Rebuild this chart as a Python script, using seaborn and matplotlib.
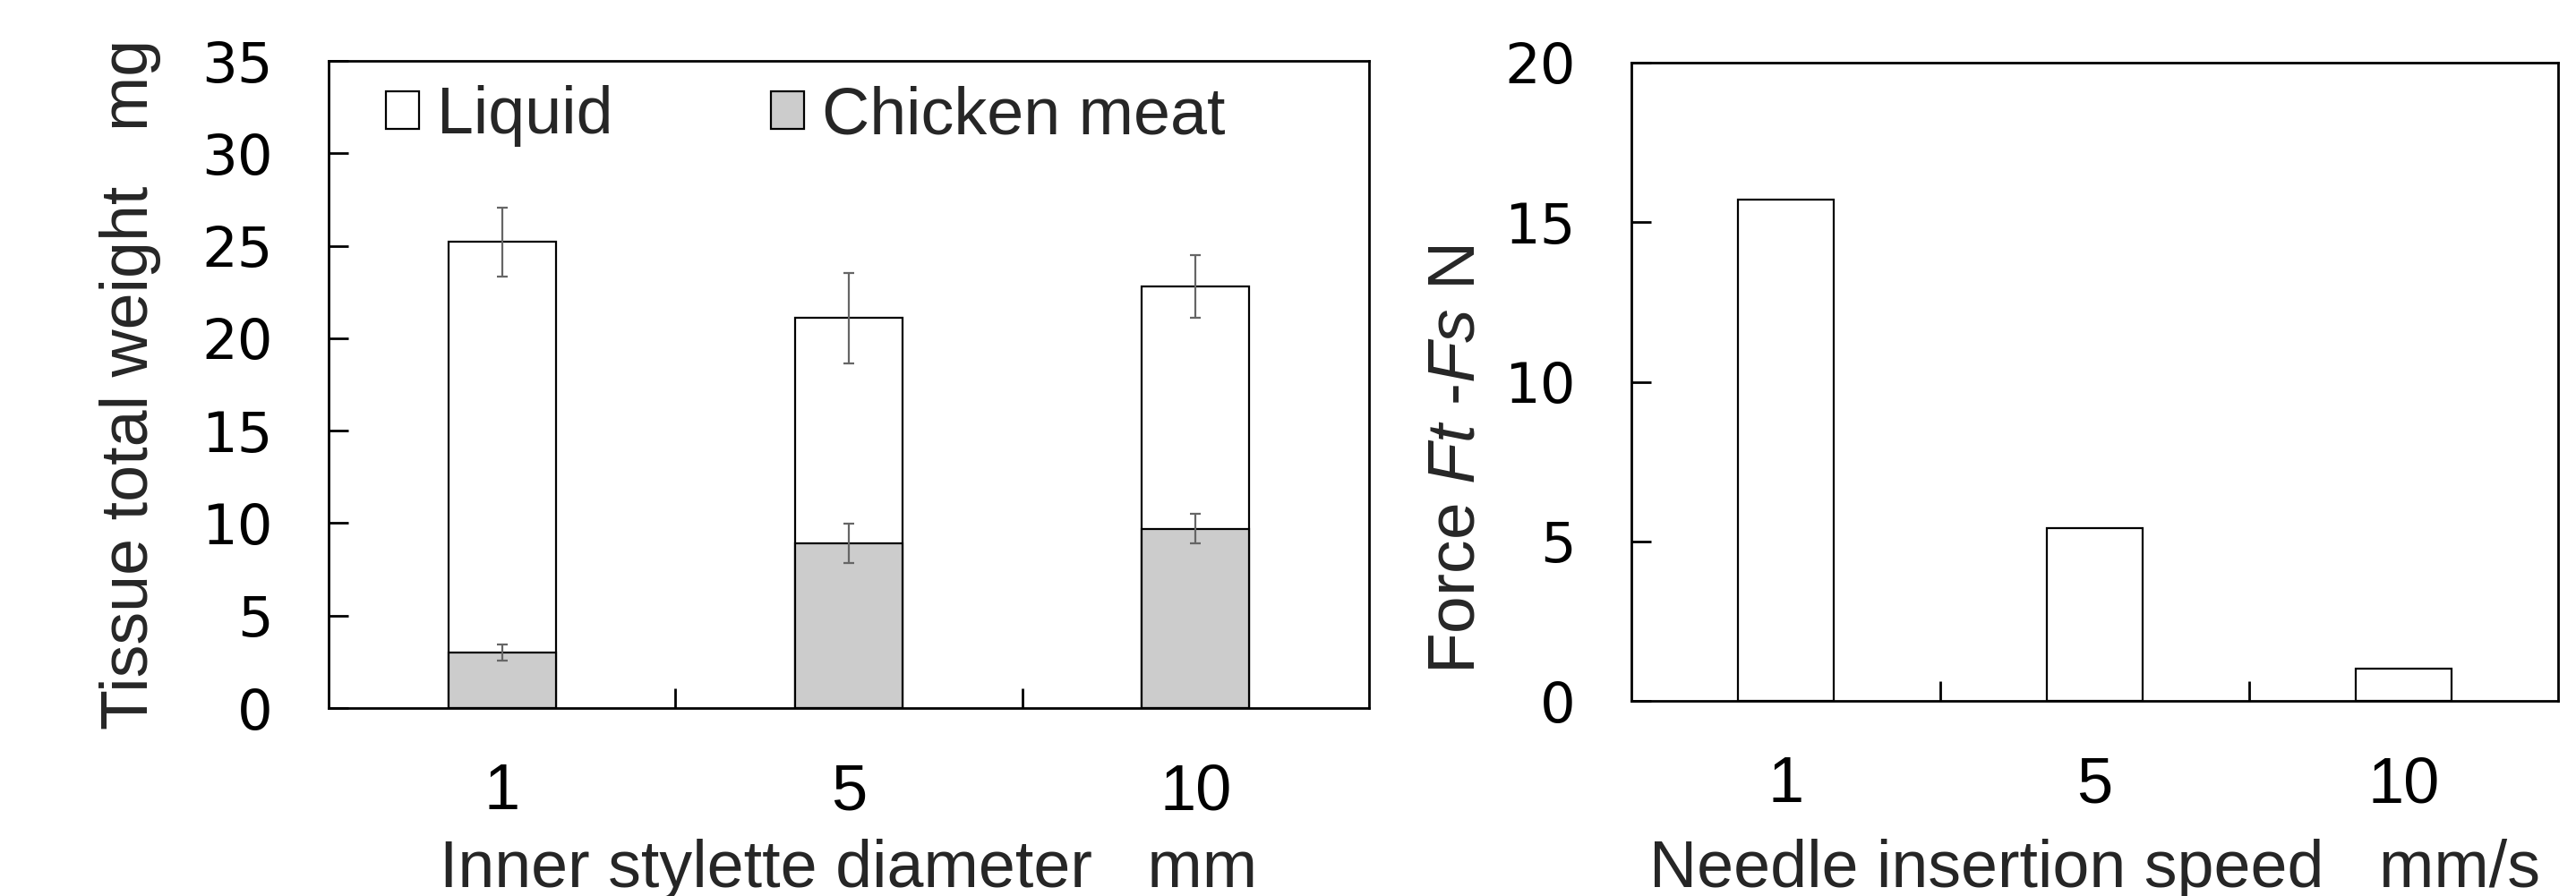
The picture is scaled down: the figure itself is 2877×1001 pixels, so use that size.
import matplotlib
matplotlib.use("Agg")
import matplotlib.pyplot as plt
import seaborn as sns
import pandas as pd
import numpy as np
from matplotlib.patches import Patch

# ---- data ----
diameters = ["1", "5", "10"]
chicken_meat = [3.0, 8.9, 9.7]
liquid = [22.2, 12.2, 13.1]
total_err = [1.85, 2.45, 1.7]
chicken_err = [0.45, 1.05, 0.8]

speeds = ["1", "5", "10"]
force = [15.7, 5.4, 1.0]

left_yticks = [0, 5, 10, 15, 20, 25, 30, 35]
right_yticks = [0, 5, 10, 15, 20]

sns.set_style("white", {"xtick.bottom": True, "ytick.left": True})
NARROW = ['Liberation Sans', 'DejaVu Sans']
WIDE = ['DejaVu Sans']
plt.rcParams['font.family'] = NARROW
plt.rcParams['mathtext.fontset'] = 'custom'
plt.rcParams['mathtext.rm'] = 'Liberation Sans'
plt.rcParams['mathtext.it'] = 'Liberation Sans:italic'
plt.rcParams.update({
    "ytick.left": True, "ytick.direction": "in", "ytick.major.size": 16,
    "ytick.major.width": 2, "ytick.color": "black",
    "xtick.bottom": True, "xtick.direction": "in", "xtick.minor.size": 16,
    "xtick.minor.width": 2, "xtick.color": "black",
})

W, H = 2877, 1001
fig = plt.figure(figsize=(W / 100, H / 100), dpi=100)
fig.patch.set_facecolor("white")

axL = fig.add_axes([367 / W, 1 - 791 / H, (1529 - 367) / W, (791 - 68) / H])
axR = fig.add_axes([1822 / W, 1 - 783 / H, (2857 - 1822) / W, (783 - 70) / H])

total = [l + c for l, c in zip(liquid, chicken_meat)]
dfL = pd.DataFrame({"diam": diameters, "total": total, "chicken": chicken_meat})
dfR = pd.DataFrame({"speed": speeds, "force": force})

BW = 0.31
sns.barplot(data=dfL, x="diam", y="total", ax=axL, color="white", edgecolor="black",
            linewidth=1.6, width=BW, saturation=1, errorbar=None)
sns.barplot(data=dfL, x="diam", y="chicken", ax=axL, color="#cccccc", edgecolor="black",
            linewidth=1.6, width=BW, saturation=1, errorbar=None)
xs = np.arange(len(diameters))
axL.errorbar(xs, total, yerr=total_err, fmt="none", ecolor="#666666", elinewidth=1.6,
             capsize=4.5, capthick=1.6, zorder=5)
axL.errorbar(xs, chicken_meat, yerr=chicken_err, fmt="none", ecolor="#666666", elinewidth=1.6,
             capsize=4.5, capthick=1.6, zorder=5)

sns.barplot(data=dfR, x="speed", y="force", ax=axR, color="white", edgecolor="black",
            linewidth=1.6, width=BW, saturation=1, errorbar=None)

for ax, yt, cats in ((axL, left_yticks, diameters), (axR, right_yticks, speeds)):
    ax.set_xlim(-0.5, 2.5)
    ax.set_ylim(yt[0], yt[-1])
    ax.set_yticks(yt)
    ax.set_yticklabels([str(v) for v in yt], family=WIDE, fontsize=45)
    ax.set_xticks([0, 1, 2])
    ax.set_xticklabels(cats, fontsize=52)
    ax.set_xticks([0.5, 1.5], minor=True)
    ax.tick_params(axis="x", which="major", length=0, pad=44, bottom=True)
    ax.tick_params(axis="x", which="minor", direction="in", length=16, width=2,
                   color="black", bottom=True, top=False)
    ax.yaxis.set_tick_params(which="major", direction="in", length=16, width=2,
                             color="black", pad=45, left=True, right=False,
                             tick1On=True)
    ax.yaxis.set_ticks_position("left")
    ax.tick_params(axis="y", which="major", pad=45)
    for s in ax.spines.values():
        s.set_visible(True)
        s.set_color("black")
        s.set_linewidth(2.0)
    ax.set_facecolor("white")

axL.set_xlabel("Inner stylette diameter   mm", fontsize=53)
axR.set_xlabel("Needle insertion speed   mm/s", fontsize=53)
axL.xaxis.set_label_coords(0.5, -0.298)
axR.xaxis.set_label_coords(0.5, -0.313)
axL.xaxis.label.set_va("bottom")
axR.xaxis.label.set_va("bottom")

axL.set_ylabel("Tissue total weight   mg", fontsize=53, va="center")
axR.set_ylabel(r"Force $Ft$ -$Fs$ N", fontsize=54, va="center")
axL.yaxis.set_label_coords(-0.191, 0.5)
axR.yaxis.set_label_coords(-0.188, 0.378)

handles = [Patch(facecolor="white", edgecolor="black", linewidth=1.6, label="Liquid"),
           Patch(facecolor="#cccccc", edgecolor="black", linewidth=1.6, label="Chicken meat")]
axL.legend(handles=handles, loc="upper left", bbox_to_anchor=(0.03, 1.003), ncol=2,
           frameon=False, fontsize=53, handlelength=0.5, handleheight=0.5,
           handletextpad=0.27, columnspacing=2.4, borderaxespad=0)

fig.savefig("out.png", dpi=100, facecolor="white")
